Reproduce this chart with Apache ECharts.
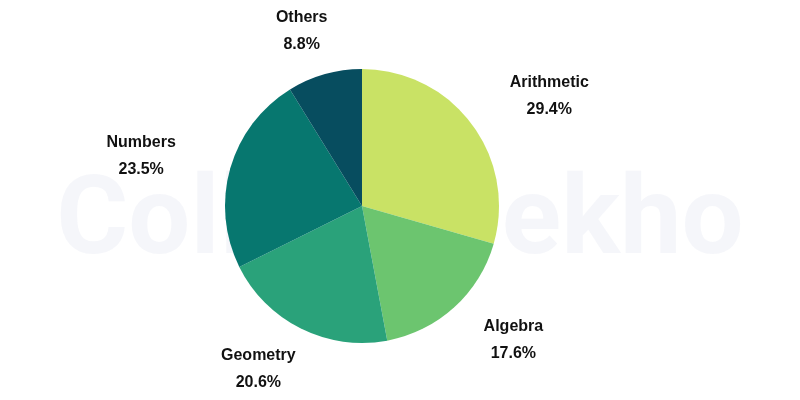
<!DOCTYPE html>
<html>
<head>
<meta charset="utf-8">
<script src="https://cdn.jsdelivr.net/npm/echarts@6/dist/echarts.min.js"></script>
<style>html,body{margin:0;padding:0;background:#fff}#main{width:800px;height:400px}</style>
</head>
<body>
<div id="main"></div>
<script>
var categories = ['Arithmetic', 'Algebra', 'Geometry', 'Numbers', 'Others'];
var values = [29.4, 17.6, 20.6, 23.5, 8.8];
var colors = ['#c9e265', '#6cc56f', '#2aa27a', '#07776f', '#074d5f'];

var chart = echarts.init(document.getElementById('main'));
var cx = 362, cy = 206, r = 137;
var total = 0;
for (var i = 0; i < values.length; i++) total += values[i];
// angle of each slice's middle, clockwise from the top
var mids = [], acc = 0;
for (var i = 0; i < values.length; i++) {
    mids.push((90 - (acc + values[i] / 2) / total * 360) * Math.PI / 180);
    acc += values[i];
}
var data = [];
for (var i = 0; i < categories.length; i++) {
    data.push({value: values[i], name: categories[i], itemStyle: {color: colors[i]}});
}
chart.setOption({
    animation: false,
    graphic: [{
        type: 'text', left: 'center', top: 170, z: -1,
        style: {text: 'CollegeDekho', font: 'bold 110px Roboto', fill: 'rgba(200,205,230,0.18)'}
    }],
    series: [{
        type: 'pie',
        center: [cx, cy],
        radius: r,
        startAngle: 90,
        data: data,
        label: {
            position: 'outside',
            formatter: function (p) { return p.name + '\n' + p.value.toFixed(1) + '%'; },
            fontFamily: 'Liberation Sans, Arial',
            fontWeight: 'bold',
            fontSize: 16,
            lineHeight: 27,
            color: '#111',
            align: 'center'
        },
        labelLine: {show: false},
        labelLayout: function (p) {
            var a = mids[p.dataIndex], c = Math.cos(a);
            var x = cx + 195 * c + (c > 0 ? 1 : -1) * p.labelRect.width / 2 * Math.abs(c);
            var y = cy - 182 * Math.sin(a);
            return {x: x, y: y, align: 'center', verticalAlign: 'middle'};
        }
    }]
});
</script>
</body>
</html>
